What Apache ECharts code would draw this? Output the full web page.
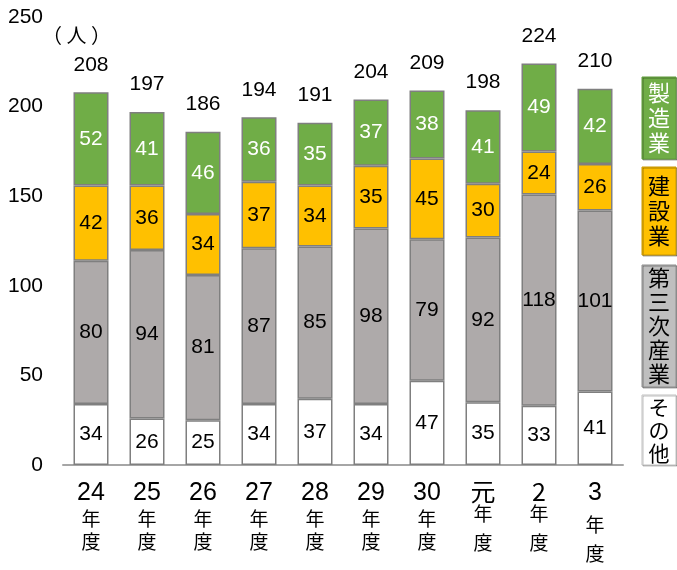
<!DOCTYPE html>
<html><head><meta charset="utf-8">
<script src="https://cdn.jsdelivr.net/npm/echarts@6/dist/echarts.min.js"></script>
<style>html,body{margin:0;padding:0;background:#fff}#c{width:677px;height:570px}</style>
</head><body><div id="c"></div>
<script>
var categories = ['24','25','26','27','28','29','30','元','2','3'];
var other      = [34, 26, 25, 34, 37, 34, 47, 35, 33, 41];
var tertiary   = [80, 94, 81, 87, 85, 98, 79, 92, 118, 101];
var construct  = [42, 36, 34, 37, 34, 35, 45, 30, 24, 26];
var manufact   = [52, 41, 46, 36, 35, 37, 38, 41, 49, 42];
var totals     = [208, 197, 186, 194, 191, 204, 209, 198, 224, 210];
var yTicks     = [0, 50, 100, 150, 200, 250];

var FONT = '"Liberation Sans", Arial, "Noto Sans CJK JP", sans-serif';
var CJK = '"Noto Sans CJK JP", sans-serif';
var chart = echarts.init(document.getElementById('c'), null, {renderer:'canvas'});
var border = {borderColor:'#7f7f7f', borderWidth:1.5};
function seg(name, data, color, txt){
  return {name:name, type:'bar', stack:'s', data:data, barWidth:35,
    itemStyle:Object.assign({color:color}, border),
    label:{show:true, position:'inside', color:txt, fontSize:21, fontFamily:FONT}};
}
var series = [
  seg('その他', other, '#ffffff', '#000'),
  seg('第三次産業', tertiary, '#AEAAAA', '#000'),
  seg('建設業', construct, '#FFC000', '#000'),
  seg('製造業', manufact, '#70AD47', '#fff'),
  {name:'total', type:'bar', stack:'s', data:categories.map(function(){return 0;}), barWidth:35,
   itemStyle:{color:'transparent', borderWidth:0},
   label:{show:true, position:'top', distance:17, color:'#000', fontSize:21, fontFamily:FONT,
     formatter:function(p){return totals[p.dataIndex];}}}
];
chart.setOption({
  animation:false,
  grid:{left:63, right:54, top:17, bottom:105},
  xAxis:{type:'category', data:categories,
    axisLine:{lineStyle:{color:'#a6a6a6', width:2}}, axisTick:{show:false},
    axisLabel:{interval:0, margin:14, color:'#000',
      formatter:function(v, i){
        if(v==='元' || v==='2') return '{n2|'+v+'}\n{k2|年}\n{k3|度}';
        if(v==='3') return '{n|'+v+'}\n{k4|年}\n{k5|度}';
        return '{n|'+v+'}\n{k|年}\n{k|度}';
      },
      rich:{
        n:{fontSize:25, fontFamily:FONT, lineHeight:28, color:'#000'},
        n2:{fontSize:25, fontFamily:CJK, lineHeight:24, color:'#000'},
        k:{fontSize:19, fontFamily:CJK, lineHeight:23, color:'#000'},
        k2:{fontSize:19, fontFamily:CJK, lineHeight:22, color:'#000'},
        k3:{fontSize:19, fontFamily:CJK, lineHeight:36, color:'#000'},
        k4:{fontSize:19, fontFamily:CJK, lineHeight:36, color:'#000'},
        k5:{fontSize:19, fontFamily:CJK, lineHeight:22, color:'#000'}
      }}},
  yAxis:{type:'value', min:yTicks[0], max:yTicks[yTicks.length-1], interval:50,
    axisLine:{show:false}, axisTick:{show:false}, splitLine:{show:false},
    axisLabel:{margin:20, color:'#000', fontSize:21, fontFamily:FONT}},
  series:series,
  graphic:[
    {type:'text', left:42, top:25, style:{text:'（ 人 ）', fontSize:20, fontFamily:CJK, fill:'#000'}},
    {type:'rect', shape:{x:642, y:77, width:34, height:82}, style:{fill:'#70AD47', stroke:'#5e9a3a', lineWidth:1, shadowColor:'rgba(0,0,0,0.35)', shadowOffsetX:1, shadowOffsetY:1}},
    {type:'text', x:659, y:118, style:{text:'製\n造\n業', fontSize:22, lineHeight:25, fontFamily:CJK, fill:'#fff', align:'center', verticalAlign:'middle'}},
    {type:'rect', shape:{x:642, y:167, width:34, height:88}, style:{fill:'#FFC000', stroke:'#c99700', lineWidth:1, shadowColor:'rgba(0,0,0,0.35)', shadowOffsetX:1, shadowOffsetY:1}},
    {type:'text', x:659, y:211, style:{text:'建\n設\n業', fontSize:22, lineHeight:25, fontFamily:CJK, fill:'#000', align:'center', verticalAlign:'middle'}},
    {type:'rect', shape:{x:642, y:265, width:34, height:122}, style:{fill:'#BFBFBF', stroke:'#8c8c8c', lineWidth:1, shadowColor:'rgba(0,0,0,0.35)', shadowOffsetX:1, shadowOffsetY:1}},
    {type:'text', x:659, y:326, style:{text:'第\n三\n次\n産\n業', fontSize:22, lineHeight:24, fontFamily:CJK, fill:'#000', align:'center', verticalAlign:'middle'}},
    {type:'rect', shape:{x:642, y:395, width:34, height:70}, style:{fill:'#ffffff', stroke:'#c0c0c0', lineWidth:1, shadowColor:'rgba(0,0,0,0.25)', shadowOffsetX:1, shadowOffsetY:1}},
    {type:'text', x:659, y:430, style:{text:'そ\nの\n他', fontSize:21, lineHeight:23, fontFamily:CJK, fill:'#000', align:'center', verticalAlign:'middle'}}
  ]
});
</script></body></html>
